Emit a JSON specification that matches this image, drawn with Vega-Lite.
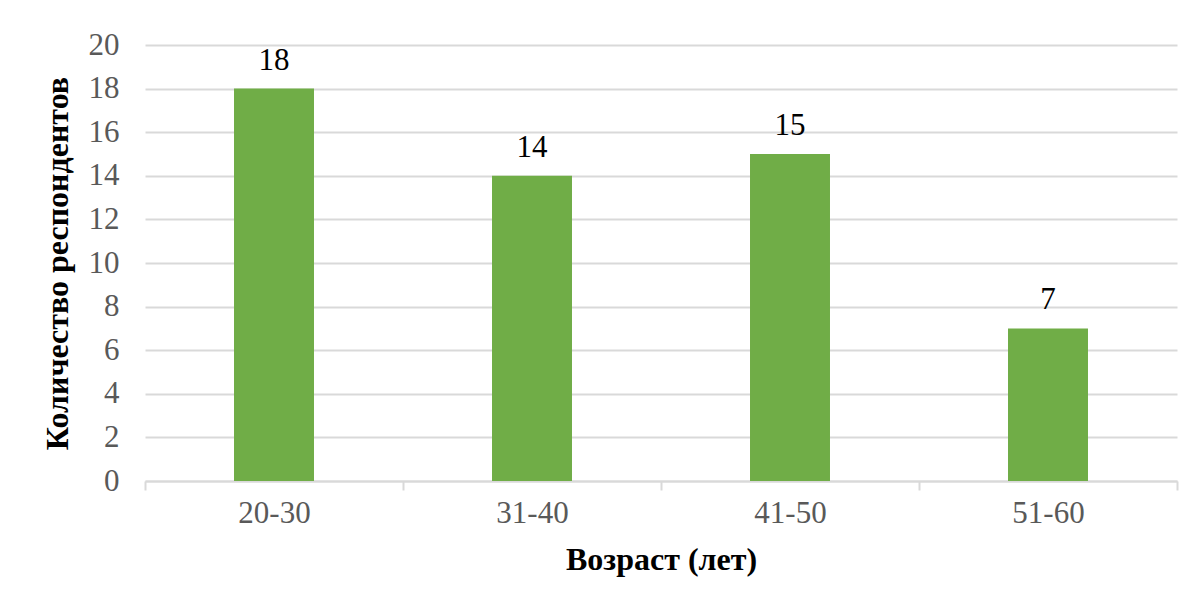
{
  "$schema": "https://vega.github.io/schema/vega-lite/v6.json",
  "width": 1032,
  "height": 436,
  "autosize": {"type": "none"},
  "padding": {"left": 145, "top": 45, "right": 19, "bottom": 122},
  "background": "white",
  "data": {"values": [
    {"age": "20-30", "count": 18},
    {"age": "31-40", "count": 14},
    {"age": "41-50", "count": 15},
    {"age": "51-60", "count": 7}
  ]},
  "config": {
    "view": {"stroke": null},
    "font": "Times New Roman, Liberation Serif, serif"
  },
  "encoding": {
    "x": {
      "field": "age", "type": "nominal", "sort": null,
      "scale": {"paddingInner": 0, "paddingOuter": 0},
      "axis": {
        "title": "Возраст (лет)",
        "titleFont": "Times New Roman, Liberation Serif, serif", "titleFontSize": 32, "titleFontWeight": "bold", "titleColor": "#000000",
        "titlePadding": 16,
        "labelFont": "Times New Roman, Liberation Serif, serif", "labelFontSize": 31, "labelColor": "#595959", "labelAngle": 0,
        "labelPadding": 8,
        "domainColor": "#d9d9d9", "domainWidth": 2,
        "tickColor": "#d9d9d9", "tickWidth": 2, "tickSize": 9, "tickBand": "extent",
        "grid": false
      }
    },
    "y": {
      "field": "count", "type": "quantitative",
      "scale": {"domain": [0, 20], "nice": false},
      "axis": {
        "title": "Количество респондентов",
        "titleFont": "Times New Roman, Liberation Serif, serif", "titleFontSize": 32, "titleFontWeight": "bold", "titleColor": "#000000",
        "titlePadding": 14,
        "labelFont": "Times New Roman, Liberation Serif, serif", "labelFontSize": 31, "labelColor": "#595959",
        "labelPadding": 26,
        "values": [0, 2, 4, 6, 8, 10, 12, 14, 16, 18, 20],
        "domain": false, "ticks": false,
        "grid": true, "gridColor": "#d9d9d9", "gridWidth": 2
      }
    }
  },
  "layer": [
    {"mark": {"type": "bar", "color": "#70ad47", "width": {"band": 0.31}}},
    {
      "mark": {"type": "text", "baseline": "alphabetic", "dy": -19, "fontSize": 31, "color": "#000000", "font": "Times New Roman, Liberation Serif, serif"},
      "encoding": {"text": {"field": "count", "type": "quantitative"}}
    }
  ]
}
